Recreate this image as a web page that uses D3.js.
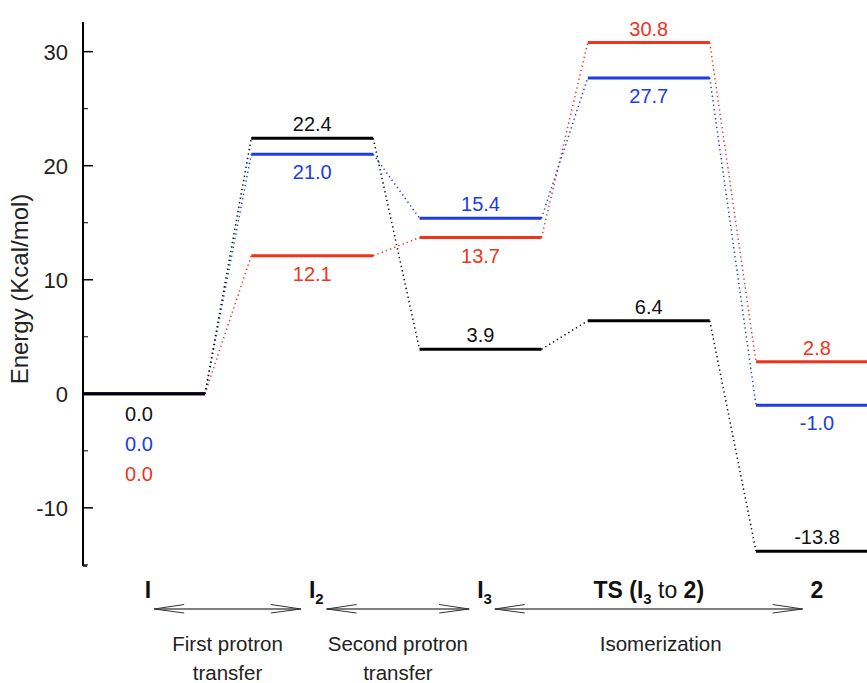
<!DOCTYPE html>
<html>
<head>
<meta charset="utf-8">
<script src="https://cdn.jsdelivr.net/npm/d3@7"></script>
<style>
  body { margin: 0; background: #fff; }
  svg { font-family: "Liberation Sans", Arial, sans-serif; }
</style>
</head>
<body>
<svg id="chart" width="867" height="683"></svg>
<script>
// stages along the reaction path
var stages = ['I', 'I2', 'I3', 'TS', '2'];

// energies (kcal/mol) per stage
var blackVals = [0.0, 22.4, 3.9, 6.4, -13.8];
var blueVals = [0.0, 21.0, 15.4, 27.7, -1.0];
var redVals = [0.0, 12.1, 13.7, 30.8, 2.8];

// where the value label sits: 'a' above, 'b' below the level, 's' stacked under stage I
var blackPos = ['s', 'a', 'a', 'a', 'a'];
var bluePos = ['s', 'b', 'a', 'b', 'b'];
var redPos = ['s', 'b', 'b', 'a', 'a'];

var yTicks = [-10, 0, 10, 20, 30];
var yMinorTicks = [-15, -5, 5, 15, 25];

var processes = [
  { from: 0, to: 1, text: ['First protron', 'transfer'] },
  { from: 1, to: 2, text: ['Second protron', 'transfer'] },
  { from: 2, to: 4, text: ['Isomerization'] }
];

var svg = d3.select('#chart');

var x = d3.scaleLinear().domain([0, 4]).range([144, 817]);
var y = d3.scaleLinear().domain([-15.1, 32.6]).range([566, 22]);
var halfW = 61;
var procTextShift = [0, 0, 12];

var series = [
  { vals: redVals, pos: redPos, color: '#f0341c', stack: 2 },
  { vals: blueVals, pos: bluePos, color: '#1c3ce6', stack: 1 },
  { vals: blackVals, pos: blackPos, color: '#000000', stack: 0 }
];

// y axis
var axisX = 83;
svg.append('line')
  .attr('x1', axisX).attr('x2', axisX)
  .attr('y1', y.range()[1]).attr('y2', y.range()[0])
  .attr('stroke', '#000').attr('stroke-width', 2);

svg.append('line')
  .attr('x1', axisX).attr('x2', axisX + 4)
  .attr('y1', y.range()[0]).attr('y2', y.range()[0])
  .attr('stroke', '#000').attr('stroke-width', 1.5);

yTicks.forEach(function (t) {
  svg.append('line')
    .attr('x1', axisX).attr('x2', axisX + 10)
    .attr('y1', y(t)).attr('y2', y(t))
    .attr('stroke', '#000').attr('stroke-width', 1.5);
  svg.append('text')
    .attr('x', 68).attr('y', y(t) + 8)
    .attr('text-anchor', 'end')
    .attr('font-size', 22)
    .attr('fill', '#222')
    .text(t);
});
yMinorTicks.forEach(function (t) {
  svg.append('line')
    .attr('x1', axisX).attr('x2', axisX + 5)
    .attr('y1', y(t)).attr('y2', y(t))
    .attr('stroke', '#000').attr('stroke-width', 1);
});

svg.append('text')
  .attr('transform', 'translate(28,289) rotate(-90)')
  .attr('text-anchor', 'middle')
  .attr('font-size', 24)
  .attr('fill', '#222')
  .text('Energy (Kcal/mol)');

// dotted connectors
series.forEach(function (s) {
  for (var i = 0; i < s.vals.length - 1; i++) {
    svg.append('line')
      .attr('x1', x(i) + halfW).attr('y1', y(s.vals[i]))
      .attr('x2', x(i + 1) - halfW).attr('y2', y(s.vals[i + 1]))
      .attr('stroke', s.color)
      .attr('stroke-width', 1.5)
      .attr('stroke-dasharray', '1.3,3.2');
  }
});

// energy levels
series.forEach(function (s) {
  s.vals.forEach(function (v, i) {
    svg.append('line')
      .attr('x1', x(i) - halfW).attr('x2', x(i) + halfW)
      .attr('y1', y(v)).attr('y2', y(v))
      .attr('stroke', s.color)
      .attr('stroke-width', 3);
  });
});

// value labels
series.forEach(function (s) {
  s.vals.forEach(function (v, i) {
    var p = s.pos[i];
    var ty;
    var tx = x(i);
    if (p === 'a') ty = y(v) - 7;
    else if (p === 'b') ty = y(v) + 25;
    else { ty = y(v) + 27 + s.stack * 30; tx = x(i) - 5; }
    svg.append('text')
      .attr('x', tx).attr('y', ty)
      .attr('text-anchor', 'middle')
      .attr('font-size', 20)
      .attr('fill', s.color === '#000000' ? '#111' : s.color)
      .text(v.toFixed(1));
  });
});

// stage labels
var stageY = 598;
var stageNodes = [];
stages.forEach(function (st, i) {
  var t = svg.append('text')
    .attr('x', x(i) + (i < 3 ? 4 : 0)).attr('y', stageY)
    .attr('text-anchor', 'middle')
    .attr('font-size', 23)
    .attr('font-weight', 'bold')
    .attr('fill', '#111');
  if (st === 'I2' || st === 'I3') {
    t.append('tspan').text('I');
    t.append('tspan').attr('font-size', 15).attr('dy', 6).text(st.slice(1));
  } else if (st === 'TS') {
    t.append('tspan').text('TS (I');
    t.append('tspan').attr('font-size', 15).attr('dy', 6).text('3');
    t.append('tspan').attr('dy', -6).attr('font-weight', 'normal').text(' to ');
    t.append('tspan').text('2)');
  } else {
    t.text(st);
  }
  stageNodes.push(t.node());
});

// process arrows
var arrowY = 609;
function arrowHead(tipX, dir) {
  [-4.5, 4].forEach(function (dy) {
    svg.append('line')
      .attr('x1', tipX).attr('y1', arrowY)
      .attr('x2', tipX + dir * 30).attr('y2', arrowY + dy)
      .attr('stroke', '#333').attr('stroke-width', 1);
  });
}
processes.forEach(function (p, k0) {
  var b0 = stageNodes[p.from].getBBox();
  var b1 = stageNodes[p.to].getBBox();
  var x0 = b0.x + b0.width + 3;
  var x1 = b1.x - 8;
  svg.append('line')
    .attr('x1', x0).attr('x2', x1)
    .attr('y1', arrowY).attr('y2', arrowY)
    .attr('stroke', '#555').attr('stroke-width', 1.5);
  arrowHead(x0, 1);
  arrowHead(x1, -1);
  p.text.forEach(function (line, k) {
    svg.append('text')
      .attr('x', (x0 + x1) / 2 + procTextShift[k0]).attr('y', 651 + k * 29)
      .attr('text-anchor', 'middle')
      .attr('font-size', 20.5)
      .attr('fill', '#222')
      .text(line);
  });
});
</script>
</body>
</html>
